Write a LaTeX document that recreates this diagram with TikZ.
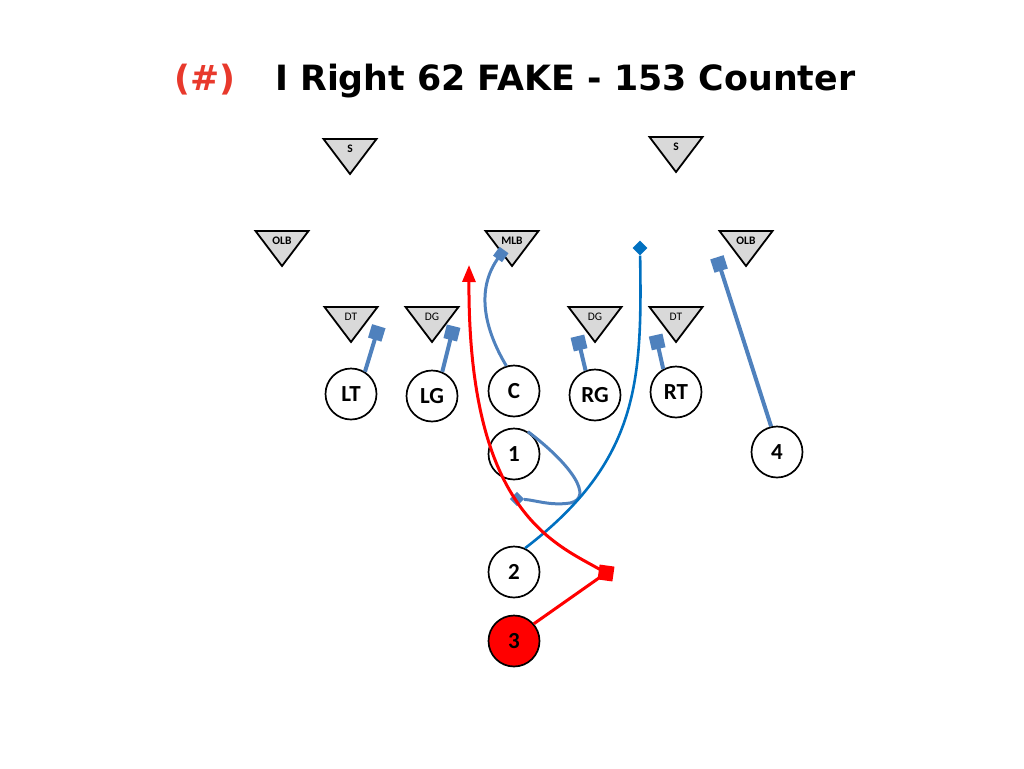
\documentclass[tikz,border=0pt]{standalone}
\usepackage{fontspec}
\setmainfont{Carlito}
\newfontfamily\titlefont{DejaVu Sans}
\usetikzlibrary{arrows.meta}
\definecolor{blk}{HTML}{4F81BD}
\definecolor{runblue}{HTML}{0070C0}
\definecolor{ttlred}{HTML}{E8392C}
\definecolor{trigray}{HTML}{D9D9D9}
\newcommand\deftri[4]{%
  \draw[tri] (#1-26.5,#2) -- (#1+26.5,#2) -- (#1,#2+35) -- cycle;
  \node[trilab] (#3) at (#1,#2+9.5) {#4};}
\begin{document}
\begin{tikzpicture}[x=1pt,y=-1pt,
  tri/.style={draw=black, line width=1.8pt, fill=trigray, line join=miter},
  trilab/.style={font=\bfseries\fontsize{11.5}{11.5}\selectfont, inner sep=0pt},
  player/.style={circle, draw=black, line width=1.7pt, fill=white, minimum size=51pt, inner sep=0pt, font=\bfseries\fontsize{23}{23}\selectfont},
  blockline/.style={draw=blk, line width=4pt, -{Square[length=14pt,width=14pt]}},
  diam/.style={rectangle, rotate=45, draw=none, inner sep=0pt, minimum size=#1},
  ttl/.style={font=\titlefont\bfseries\fontsize{34.8}{40}\selectfont, inner sep=0pt, anchor=base west}
]
\path[use as bounding box] (0,0) rectangle (1024,768);

% title
\node[ttl, text=ttlred] (num) at (174,90) {(\#)};
\node[ttl] (title) at (275,90) {I Right 62 FAKE - 153 Counter};

% defense
\deftri{350}{139}{sL}{S}
\deftri{676}{137}{sR}{S}
\deftri{282}{231}{olbL}{OLB}
\deftri{512}{231}{mlb}{MLB}
\deftri{746}{231}{olbR}{OLB}
\deftri{351}{307}{dtL}{\mdseries DT}
\deftri{432}{307}{dgL}{\mdseries DG}
\deftri{595}{307}{dgR}{\mdseries DG}
\deftri{676}{307}{dtR}{\mdseries DT}

% offense
\node[player] (LT) at (351,394) {LT};
\node[player] (LG) at (432,396) {LG};
\node[player] (C)  at (514,391) {C};
\node[player] (RG) at (595,395) {RG};
\node[player] (RT) at (676,392) {RT};
\node[player] (p1) at (514,454) {1};
\node[player] (p4) at (777,452) {4};
\node[player] (p2) at (514,572) {2};
\node[player, fill=red] (p3) at (514,641) {3};

% free ends and markers
\coordinate (eLT) at (378.8,326.2);
\coordinate (eLG) at (453.6,326.2);
\coordinate (eRG) at (577.4,336.2);
\coordinate (eRT) at (655.6,335.1);
\coordinate (e4)  at (716.9,257.3);
\coordinate (eC)  at (504,250);
\coordinate (arr) at (469,265);
\node[diam=10pt, fill=blk] (d1) at (517,499) {};
\node[diam=10.5pt, fill=runblue] (d2) at (640,248) {};

% blocks
\draw[blockline] (LT.58) -- (eLT);
\draw[blockline] (LG.67) -- (eLG);
\draw[blockline] (RG.111) -- (eRG);
\draw[blockline] (RT.119) -- (eRT);
\draw[blockline] (p4.103) -- (e4);
\draw[draw=blk, line width=3pt, -{Square[length=11pt,width=11pt]}]
  (C.107) .. controls (485,330) and (475,290) .. (eC);

% back 1 fake
\draw[draw=blk, line width=3pt]
  (p1.58) .. controls (572,465) and (594,498) .. (570,503)
  .. controls (550,506) and (535,500) .. (d1);

% back 2
\draw[draw=runblue, line width=2.6pt]
  (p2.65) .. controls (640,460) and (642,380) .. (d2);

% back 3 counter
\node[draw=none, fill=red, minimum size=15pt, inner sep=0pt, rotate=-8] (sq3) at (606,573) {};
\draw[red, line width=3pt] (p3.41) -- (sq3.center);
\draw[red, line width=3pt, -{Triangle[length=17pt,width=13pt]}]
  (sq3.center) .. controls (560,545) and (468,520) .. (arr);
\end{tikzpicture}
\end{document}
